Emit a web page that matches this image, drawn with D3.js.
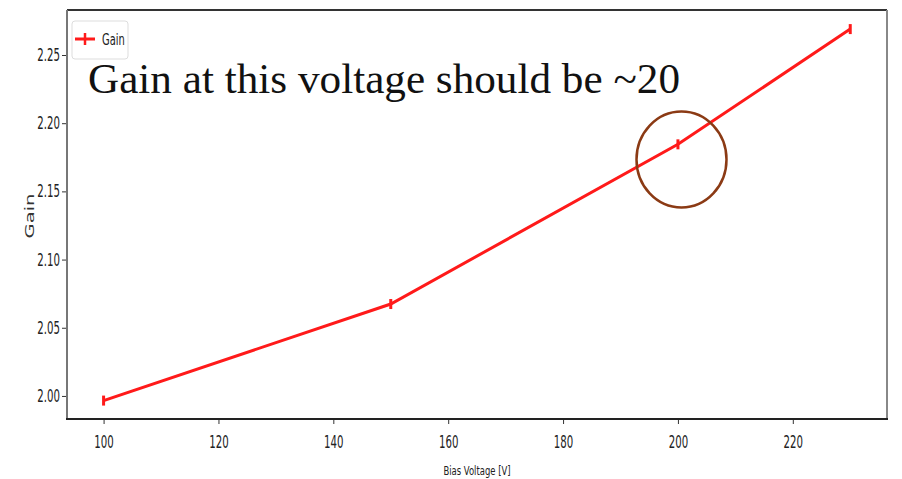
<!DOCTYPE html>
<html>
<head>
<meta charset="utf-8">
<script src="https://cdn.jsdelivr.net/npm/d3@7"></script>
<style>
  body { margin: 0; background: #fff; }
  .tick text { font-family: 'DejaVu Sans', sans-serif; fill: #222; }
</style>
</head>
<body>
<div id="chart"></div>
<script>
const voltages = [100, 150, 200, 230];
const gains = [1.9966, 2.0674, 2.1845, 2.269];
const xTicks = [100, 120, 140, 160, 180, 200, 220];
const yTicks = [2.00, 2.05, 2.10, 2.15, 2.20, 2.25];

const width = 902, height = 479;
const plot = { left: 67, right: 887, top: 10, bottom: 419 };
const squeeze = 0.6; // the source picture is squashed sideways

const svg = d3.select('#chart').append('svg')
    .attr('width', width)
    .attr('height', height);

const x = d3.scaleLinear().domain([93.63, 236.4]).range([plot.left, plot.right]);
const y = d3.scaleLinear().domain([1.9831, 2.283]).range([plot.bottom, plot.top]);

// axes
const xAxis = svg.append('g')
    .attr('transform', `translate(0,${plot.bottom})`)
    .call(d3.axisBottom(x).tickValues(xTicks).tickSize(5).tickPadding(12).tickFormat(d3.format('d')));
xAxis.select('.domain').remove();
xAxis.selectAll('.tick line').attr('stroke', '#333');
xAxis.selectAll('.tick text')
    .style('font-size', '17px')
    .attr('transform', `scale(${squeeze},1)`);

const yAxis = svg.append('g')
    .attr('transform', `translate(${plot.left},0)`)
    .call(d3.axisLeft(y).tickValues(yTicks).tickSize(5).tickPadding(5).tickFormat(d3.format('.2f')));
yAxis.select('.domain').remove();
yAxis.selectAll('.tick line').attr('stroke', '#333');
yAxis.selectAll('.tick text')
    .style('font-size', '17px')
    .attr('x', -7 / squeeze)
    .attr('transform', `scale(${squeeze},1)`);

// frame
svg.append('line').attr('x1', plot.left).attr('x2', plot.right).attr('y1', plot.top).attr('y2', plot.top)
    .attr('stroke', '#333').attr('stroke-width', 2);
svg.append('line').attr('x1', plot.right).attr('x2', plot.right).attr('y1', plot.top).attr('y2', plot.bottom)
    .attr('stroke', '#888').attr('stroke-width', 2);
svg.append('line').attr('x1', plot.left).attr('x2', plot.left).attr('y1', plot.top).attr('y2', plot.bottom)
    .attr('stroke', '#777').attr('stroke-width', 2);
svg.append('line').attr('x1', plot.left - 1).attr('x2', plot.right + 1).attr('y1', plot.bottom).attr('y2', plot.bottom)
    .attr('stroke', '#222').attr('stroke-width', 2);

// axis labels
svg.append('text')
    .attr('transform', `translate(477,475) scale(0.65,1)`)
    .attr('text-anchor', 'middle')
    .style('font-family', "'DejaVu Sans', sans-serif")
    .style('font-size', '13px')
    .attr('fill', '#222')
    .text('Bias Voltage [V]');

svg.append('text')
    .attr('transform', 'translate(34,216) rotate(-90) scale(1.5,1)')
    .attr('text-anchor', 'middle')
    .style('font-family', "'DejaVu Sans', sans-serif")
    .style('font-size', '13px')
    .attr('fill', '#333')
    .text('Gain');

// data line
const data = voltages.map((v, i) => ({ v: v, g: gains[i] }));
svg.append('path')
    .datum(data)
    .attr('fill', 'none')
    .attr('stroke', '#ff1a1a')
    .attr('stroke-width', 3)
    .attr('d', d3.line().x(d => x(d.v)).y(d => y(d.g)));

// small error bars
svg.append('g')
    .selectAll('line')
    .data(data)
    .enter().append('line')
    .attr('x1', d => x(d.v)).attr('x2', d => x(d.v))
    .attr('y1', d => y(d.g) - 5).attr('y2', d => y(d.g) + 5)
    .attr('stroke', '#ff1a1a')
    .attr('stroke-width', 3);

// legend
const legend = svg.append('g');
legend.append('rect')
    .attr('x', 72).attr('y', 21).attr('width', 56).attr('height', 38).attr('rx', 3)
    .attr('fill', '#fff').attr('stroke', '#ddd');
legend.append('line').attr('x1', 75).attr('x2', 95).attr('y1', 39).attr('y2', 39)
    .attr('stroke', '#ff1a1a').attr('stroke-width', 3);
legend.append('line').attr('x1', 85).attr('x2', 85).attr('y1', 33).attr('y2', 45)
    .attr('stroke', '#ff1a1a').attr('stroke-width', 2.5);
legend.append('text')
    .attr('transform', 'translate(102,45) scale(0.62,1)')
    .style('font-family', "'DejaVu Sans', sans-serif")
    .style('font-size', '16px')
    .attr('fill', '#222')
    .text('Gain');

// annotation
svg.append('text')
    .attr('x', 88).attr('y', 93)
    .attr('textLength', 592)
    .attr('lengthAdjust', 'spacingAndGlyphs')
    .style('font-family', "'Liberation Serif', 'DejaVu Serif', serif")
    .style('font-size', '42px')
    .attr('fill', '#111')
    .text('Gain at this voltage should be ~20');

svg.append('ellipse')
    .attr('cx', 681.5).attr('cy', 159.5).attr('rx', 45).attr('ry', 48)
    .attr('fill', 'none')
    .attr('stroke', '#8b3a14')
    .attr('stroke-width', 2.5);
</script>
</body>
</html>
